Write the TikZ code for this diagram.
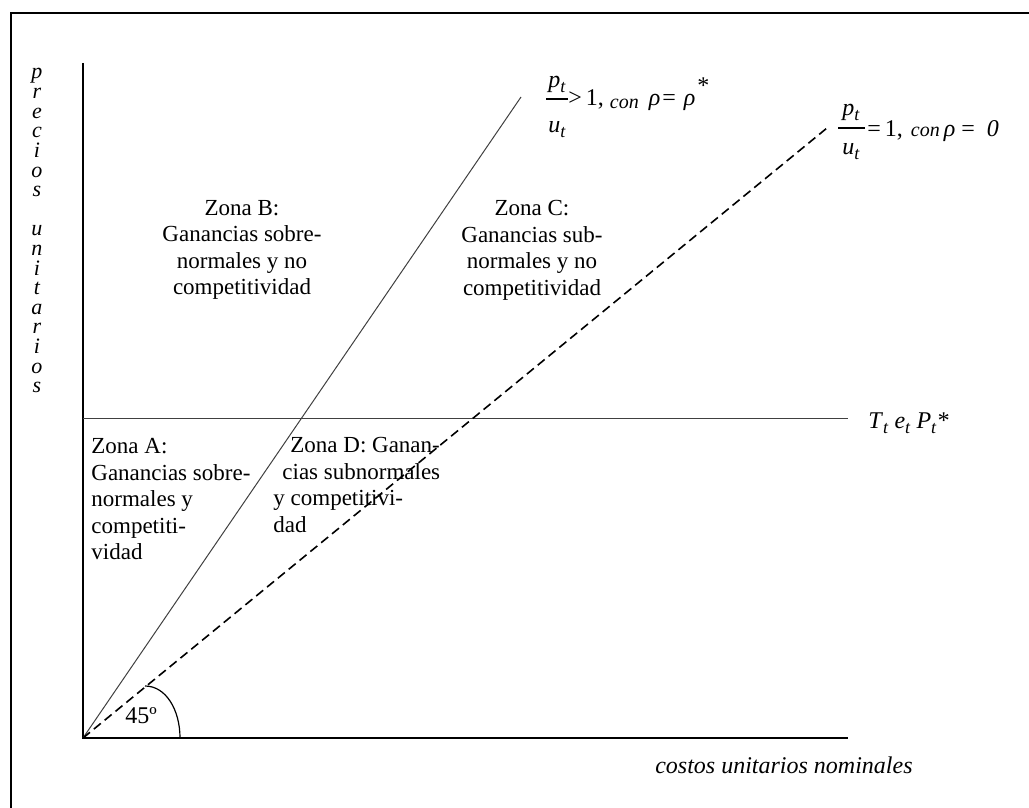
\documentclass[tikz,border=0pt]{standalone}
\usepackage{fontspec}
\setmainfont{Liberation Serif}
\newcommand{\subt}{\raisebox{-2.5pt}{\fontsize{9}{9}\selectfont\textit{t}}}
\newcommand{\consmall}{{\fontsize{10}{10}\selectfont\textit{con}}}

\tikzset{
  axisline/.style={line width=1pt},
  guideline/.style={line width=0.5pt, black!75},
  ratioline/.style={line width=0.8pt, dash pattern=on 4.5pt off 2.5pt},
  fracbar/.style={line width=0.9pt},
  lbl/.style={inner sep=0pt, font=\fontsize{12}{13.2}\selectfont},
  zonetext/.style={inner sep=0pt, anchor=north, font=\fontsize{11.5}{13.25}\selectfont},
  axisletter/.style={inner sep=0pt, anchor=base, font=\fontsize{11}{11}\selectfont\itshape},
}

\begin{document}
\begin{tikzpicture}[x=0.5pt, y=-0.5pt]
    \useasboundingbox (0,0) rectangle (1029,808);
    \draw[line width=1pt] (11,808) -- (11,13) -- (1029,13);

    % ejes y rectas
    \coordinate (O) at (83,738);
    \coordinate (ytop) at (83,63);
    \coordinate (xend) at (848,738);
    \coordinate (hleft) at (83,418);
    \coordinate (hright) at (848,418);
    \coordinate (solidend) at (521,97);
    \coordinate (dashend) at (827,128);
    \draw[axisline] (ytop) -- (O) -- (xend);
    \draw[guideline] (hleft) -- (hright);
    \draw[guideline] (O) -- (solidend);
    \draw[ratioline] (O) -- (dashend);
    \draw[line width=0.6pt] (145,686) .. controls (166,686) and (180,710) .. (180,738);
    \node[lbl, anchor=base west] (ang) at (125,723) {45º};

    % eje vertical
    \foreach \k/\ch in {0/p,1/r,2/e,3/c,4/i,5/o,6/s,8/u,9/n,10/i,11/t,12/a,13/r,14/i,15/o,16/s}
        \node[axisletter] (ylab\k) at (37,{79+19.6*\k}) {\ch};
    \node[lbl, anchor=base east] (xlab) at (913,773) {\textit{costos unitarios nominales}};
    \node[lbl, anchor=base west] (tep) at (868,428) {\textit{T}\subt\ \textit{e}\subt\ \textit{P}\subt\textit{*}};

    % rectas de referencia
    \node[lbl, anchor=base] (num1) at (557,88) {\textit{p}\subt};
    \draw[fracbar] (546,99) -- (568,99);
    \node[lbl, anchor=base] (den1) at (557,133) {\textit{u}\subt};
    \node[lbl, anchor=base west] (rel1) at (568,106)
        {>\,1,\hspace{3pt}\raisebox{-1.5pt}{\consmall}\hspace{5pt}\textit{ρ}\hspace{1pt}=\hspace{4pt}\textit{ρ}\hspace{1pt}\raisebox{6pt}{*}};
    \node[lbl, anchor=base] (num2) at (851,116) {\textit{p}\subt};
    \draw[fracbar] (838,128) -- (865,128);
    \node[lbl, anchor=base] (den2) at (851,155) {\textit{u}\subt};
    \node[lbl, anchor=base west] (rel2) at (867,137)
        {=\,1,\hspace{4pt}\consmall\hspace{2pt}\textit{ρ}\hspace{3pt}=\hspace{6pt}\textit{0}};

    % zonas
    \node[zonetext, align=center] (zonaB) at (242,200) {Zona B:\\Ganancias sobre-\\normales y no\\competitividad};
    \node[zonetext, align=center] (zonaC) at (532,200) {Zona C:\\Ganancias sub-\\normales y no\\competitividad};
    \node[zonetext, anchor=north west, align=left] (zonaA) at (91,438) {Zona A:\\Ganancias sobre-\\normales y\\competiti-\\vidad};
    \node[zonetext, anchor=north west, align=left] (zonaD) at (273,437)
        {\hspace*{8.5pt}Zona D: Ganan-\\\hspace*{4.5pt}cias subnormales\\y competitivi-\\dad};
\end{tikzpicture}
\end{document}
